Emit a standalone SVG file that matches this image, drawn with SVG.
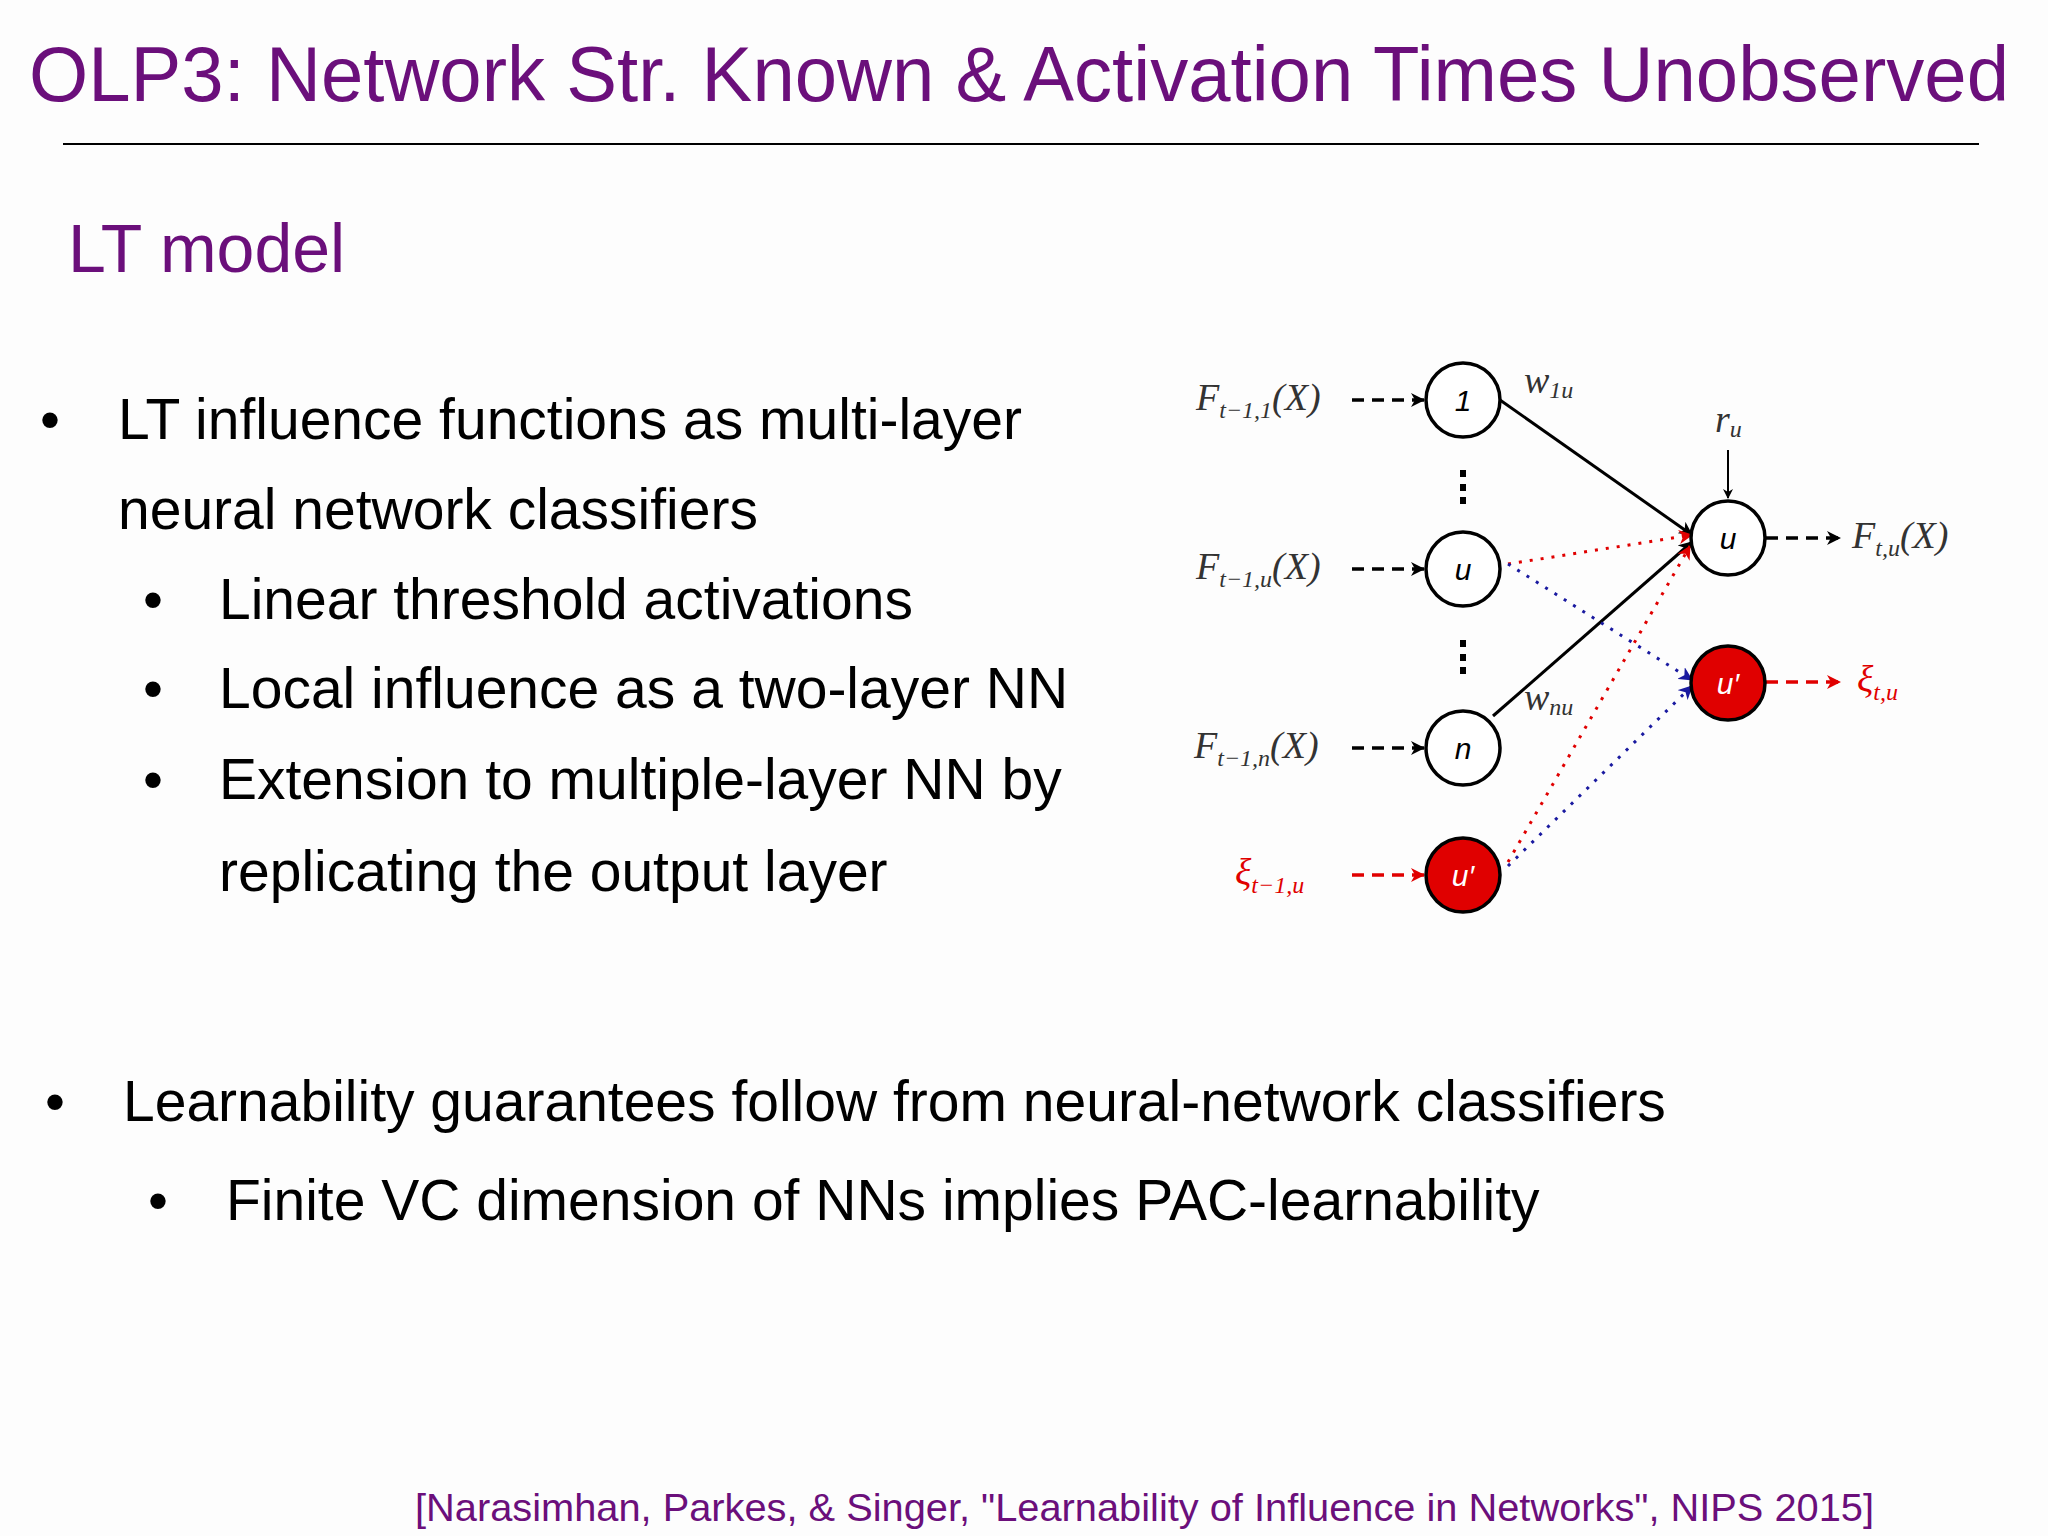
<svg xmlns="http://www.w3.org/2000/svg" width="2048" height="1536" viewBox="0 0 2048 1536">
<style>
.t{font-family:"Liberation Sans",Arial,sans-serif;fill:#000}
.p{fill:#6b0f7b}
.m{font-family:"Liberation Serif","Times New Roman",serif;font-style:italic;font-size:38px;fill:#333}
.s{font-size:24px}
.nd{fill:#fff;stroke:#000;stroke-width:3.5}
.rd{fill:#e00000;stroke:#000;stroke-width:3.5}
.nl{font-family:"Liberation Sans",Arial,sans-serif;font-style:italic;font-size:30px;text-anchor:middle}
</style>
<defs>
<marker id="ak" markerWidth="10" markerHeight="10" refX="9" refY="5" orient="auto" markerUnits="userSpaceOnUse"><path d="M0,0 L10,5 L0,10 L3,5z" fill="#000"/></marker>
<marker id="ar" markerWidth="14" markerHeight="14" refX="13" refY="7" orient="auto" markerUnits="userSpaceOnUse"><path d="M0,0 L14,7 L0,14 L4,7z" fill="#e00000"/></marker>
<marker id="ab" markerWidth="14" markerHeight="14" refX="13" refY="7" orient="auto" markerUnits="userSpaceOnUse"><path d="M0,0 L14,7 L0,14 L4,7z" fill="#1a1aa0"/></marker>
<marker id="akb" markerWidth="14" markerHeight="14" refX="13" refY="7" orient="auto" markerUnits="userSpaceOnUse"><path d="M0,0 L14,7 L0,14 L4,7z" fill="#000"/></marker>
</defs>
<rect width="2048" height="1536" fill="#fdfdfd"/>
<text class="t p" x="29" y="101" font-size="77" textLength="1980" lengthAdjust="spacingAndGlyphs">OLP3: Network Str. Known &amp; Activation Times Unobserved</text>
<line x1="63" y1="144" x2="1979" y2="144" stroke="#000" stroke-width="2"/>
<text class="t p" x="68" y="272" font-size="68">LT model</text>
<g class="t" font-size="57">
<text x="40" y="439">•</text><text x="118" y="439">LT influence functions as multi-layer</text>
<text x="118" y="529">neural network classifiers</text>
<text x="143" y="619">•</text><text x="219" y="619">Linear threshold activations</text>
<text x="143" y="708">•</text><text x="219" y="708">Local influence as a two-layer NN</text>
<text x="143" y="799">•</text><text x="219" y="799">Extension to multiple-layer NN by</text>
<text x="219" y="891">replicating the output layer</text>
<text x="45" y="1121">•</text><text x="123" y="1121">Learnability guarantees follow from neural-network classifiers</text>
<text x="148" y="1220">•</text><text x="226" y="1220">Finite VC dimension of NNs implies PAC-learnability</text>
</g>
<text class="t p" x="415" y="1521" font-size="39" textLength="1459" lengthAdjust="spacingAndGlyphs">[Narasimhan, Parkes, &amp; Singer, "Learnability of Influence in Networks", NIPS 2015]</text>
<g id="connectors" fill="none">
<line x1="1352" y1="400" x2="1424" y2="400" stroke="#000" stroke-width="3.5" stroke-dasharray="12,8" marker-end="url(#akb)"/>
<line x1="1352" y1="569" x2="1424" y2="569" stroke="#000" stroke-width="3.5" stroke-dasharray="12,8" marker-end="url(#akb)"/>
<line x1="1352" y1="748" x2="1424" y2="748" stroke="#000" stroke-width="3.5" stroke-dasharray="12,8" marker-end="url(#akb)"/>
<line x1="1352" y1="875" x2="1424" y2="875" stroke="#e00000" stroke-width="3.5" stroke-dasharray="12,8" marker-end="url(#ar)"/>
<line x1="1766" y1="538" x2="1840" y2="538" stroke="#000" stroke-width="3.5" stroke-dasharray="12,8" marker-end="url(#akb)"/>
<line x1="1766" y1="682" x2="1840" y2="682" stroke="#e00000" stroke-width="3.5" stroke-dasharray="12,8" marker-end="url(#ar)"/>
<line x1="1500" y1="400" x2="1692" y2="535" stroke="#000" stroke-width="3" marker-end="url(#akb)"/>
<line x1="1493" y1="716" x2="1692" y2="542" stroke="#000" stroke-width="3" marker-end="url(#akb)"/>
<line x1="1728" y1="450" x2="1728" y2="498" stroke="#000" stroke-width="2" marker-end="url(#ak)"/>
<line x1="1508" y1="564" x2="1692" y2="535" stroke="#e00000" stroke-width="3" stroke-dasharray="3,8" marker-end="url(#ar)"/>
<line x1="1508" y1="564" x2="1692" y2="680" stroke="#1a1aa0" stroke-width="3" stroke-dasharray="3,8" marker-end="url(#ab)"/>
<line x1="1508" y1="862" x2="1690" y2="546" stroke="#e00000" stroke-width="3" stroke-dasharray="3,8" marker-end="url(#ar)"/>
<line x1="1508" y1="866" x2="1692" y2="686" stroke="#1a1aa0" stroke-width="3" stroke-dasharray="3,8" marker-end="url(#ab)"/>
</g>
<g id="n1"><circle class="nd" cx="1463" cy="400" r="37"/><text class="nl" x="1463" y="411" font-style="normal">1</text></g>
<g id="nu"><circle class="nd" cx="1463" cy="569" r="37"/><text class="nl" x="1463" y="580">u</text></g>
<g id="nn"><circle class="nd" cx="1463" cy="748" r="37"/><text class="nl" x="1463" y="759">n</text></g>
<g id="nup"><circle class="rd" cx="1463" cy="875" r="37"/><text class="nl" x="1463" y="886" fill="#fff">u′</text></g>
<g id="ou"><circle class="nd" cx="1728" cy="538" r="37"/><text class="nl" x="1728" y="549">u</text></g>
<g id="oup"><circle class="rd" cx="1728" cy="683" r="37"/><text class="nl" x="1728" y="694" fill="#fff">u′</text></g>
<g id="dots" fill="#000"><rect x="1460" y="470" width="6" height="7"/><rect x="1460" y="484" width="6" height="7"/><rect x="1460" y="497" width="6" height="7"/>
<rect x="1460" y="640" width="6" height="7"/><rect x="1460" y="654" width="6" height="7"/><rect x="1460" y="667" width="6" height="7"/></g>
<g id="labels">
<text class="m" x="1196" y="410">F<tspan class="s" dy="8">t−1,1</tspan><tspan dy="-8">(X)</tspan></text>
<text class="m" x="1196" y="579">F<tspan class="s" dy="8">t−1,u</tspan><tspan dy="-8">(X)</tspan></text>
<text class="m" x="1194" y="758">F<tspan class="s" dy="8">t−1,n</tspan><tspan dy="-8">(X)</tspan></text>
<text class="m" x="1235" y="885" style="fill:#e00000">ξ<tspan class="s" dy="8">t−1,u</tspan></text>
<text class="m" x="1852" y="548">F<tspan class="s" dy="8">t,u</tspan><tspan dy="-8">(X)</tspan></text>
<text class="m" x="1857" y="692" style="fill:#e00000">ξ<tspan class="s" dy="8">t,u</tspan></text>
<text class="m" x="1524" y="393" font-size="30">w<tspan class="s" dy="5">1u</tspan></text>
<text class="m" x="1524" y="710" font-size="30">w<tspan class="s" dy="5">nu</tspan></text>
<text class="m" x="1715" y="432" font-size="30">r<tspan class="s" dy="5">u</tspan></text>
</g>
</svg>
